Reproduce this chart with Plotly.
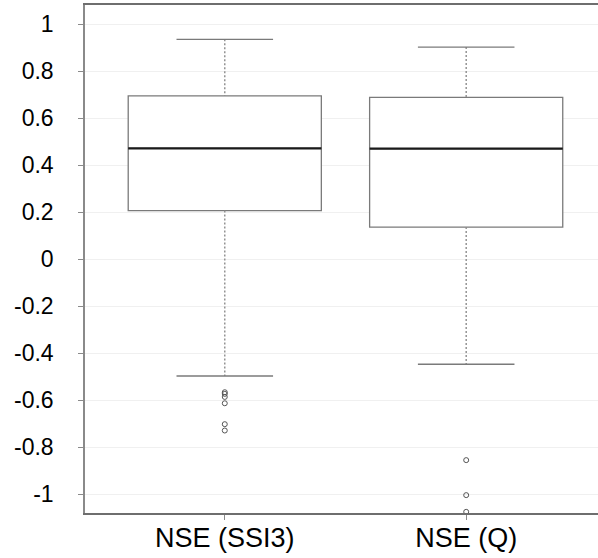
import plotly.graph_objects as go

# ---- data ----
categories = ["NSE (SSI3)", "NSE (Q)"]
positions = [0, 1]
q1 = [0.207, 0.137]
median = [0.472, 0.471]
q3 = [0.695, 0.689]
lower_whisker = [-0.497, -0.447]
upper_whisker = [0.936, 0.903]
outliers = [
    [-0.566, -0.573, -0.586, -0.613, -0.702, -0.729],
    [-0.855, -1.004, -1.075],
]
y_ticks = [1, 0.8, 0.6, 0.4, 0.2, 0, -0.2, -0.4, -0.6, -0.8, -1]
y_tick_text = ["1", "0.8", "0.6", "0.4", "0.2", "0", "-0.2", "-0.4", "-0.6", "-0.8", "-1"]

BOX_W = 0.8
CAP_W = 0.4
LINE_GRAY = "#7a7a7a"
FONT = "Liberation Sans, Arial, sans-serif"

fig = go.Figure()

# dashed whiskers
wx, wy = [], []
for p, lo, a, b, hi in zip(positions, lower_whisker, q1, q3, upper_whisker):
    wx += [p, p, None, p, p, None]
    wy += [hi, b, None, a, lo, None]
fig.add_trace(go.Scatter(x=wx, y=wy, mode="lines",
                         line=dict(color="#8c8c8c", width=1.4, dash="2px,2px"),
                         hoverinfo="skip", showlegend=False))

# whisker caps
cx, cy = [], []
for p, lo, hi in zip(positions, lower_whisker, upper_whisker):
    cx += [p - CAP_W / 2, p + CAP_W / 2, None, p - CAP_W / 2, p + CAP_W / 2, None]
    cy += [hi, hi, None, lo, lo, None]
fig.add_trace(go.Scatter(x=cx, y=cy, mode="lines",
                         line=dict(color=LINE_GRAY, width=1.3),
                         hoverinfo="skip", showlegend=False))

# boxes
fig.add_trace(go.Box(x=positions, q1=q1, median=median, q3=q3,
                     lowerfence=q1, upperfence=q3, width=BOX_W,
                     fillcolor="white", line=dict(color=LINE_GRAY, width=1.3),
                     boxpoints=False, hoverinfo="skip", showlegend=False))

# medians
mx, my = [], []
for p, m in zip(positions, median):
    mx += [p - BOX_W / 2, p + BOX_W / 2, None]
    my += [m, m, None]
fig.add_trace(go.Scatter(x=mx, y=my, mode="lines",
                         line=dict(color="#1a1a1a", width=2.2),
                         hoverinfo="skip", showlegend=False))

# outliers
ox, oy = [], []
for p, vals in zip(positions, outliers):
    ox += [p] * len(vals)
    oy += vals
fig.add_trace(go.Scatter(x=ox, y=oy, mode="markers",
                         marker=dict(symbol="circle-open", size=5,
                                     color="#555555", line=dict(width=1)),
                         cliponaxis=True, hoverinfo="skip", showlegend=False))

fig.update_layout(
    width=598, height=558,
    margin=dict(l=85, r=0, t=5, b=45, autoexpand=False),
    paper_bgcolor="white", plot_bgcolor="white",
    font=dict(family=FONT, size=24, color="black"),
    xaxis=dict(range=[-0.579, 1.546], tickvals=positions, ticktext=categories,
               showgrid=False, zeroline=False, showline=True, mirror=True,
               linecolor="#6e6e6e", linewidth=2, ticks="outside", ticklen=5,
               tickcolor="#8a8a8a", ticklabelstandoff=-5,
               tickfont=dict(size=27, family=FONT)),
    yaxis=dict(range=[-1.08, 1.082], tickvals=y_ticks, ticktext=y_tick_text,
               showgrid=True, gridcolor="#f0f0f0", gridwidth=1, zeroline=False,
               showline=True, mirror=False, linecolor="#8a8a8a", linewidth=1.5,
               ticks="outside", ticklen=5, tickcolor="#8a8a8a",
               ticklabelstandoff=20,
               tickfont=dict(size=23, family=FONT)),
)

fig.write_html("out.html", config={"displayModeBar": False},
               post_script="document.body.style.margin='0px';document.body.style.padding='0px';")
